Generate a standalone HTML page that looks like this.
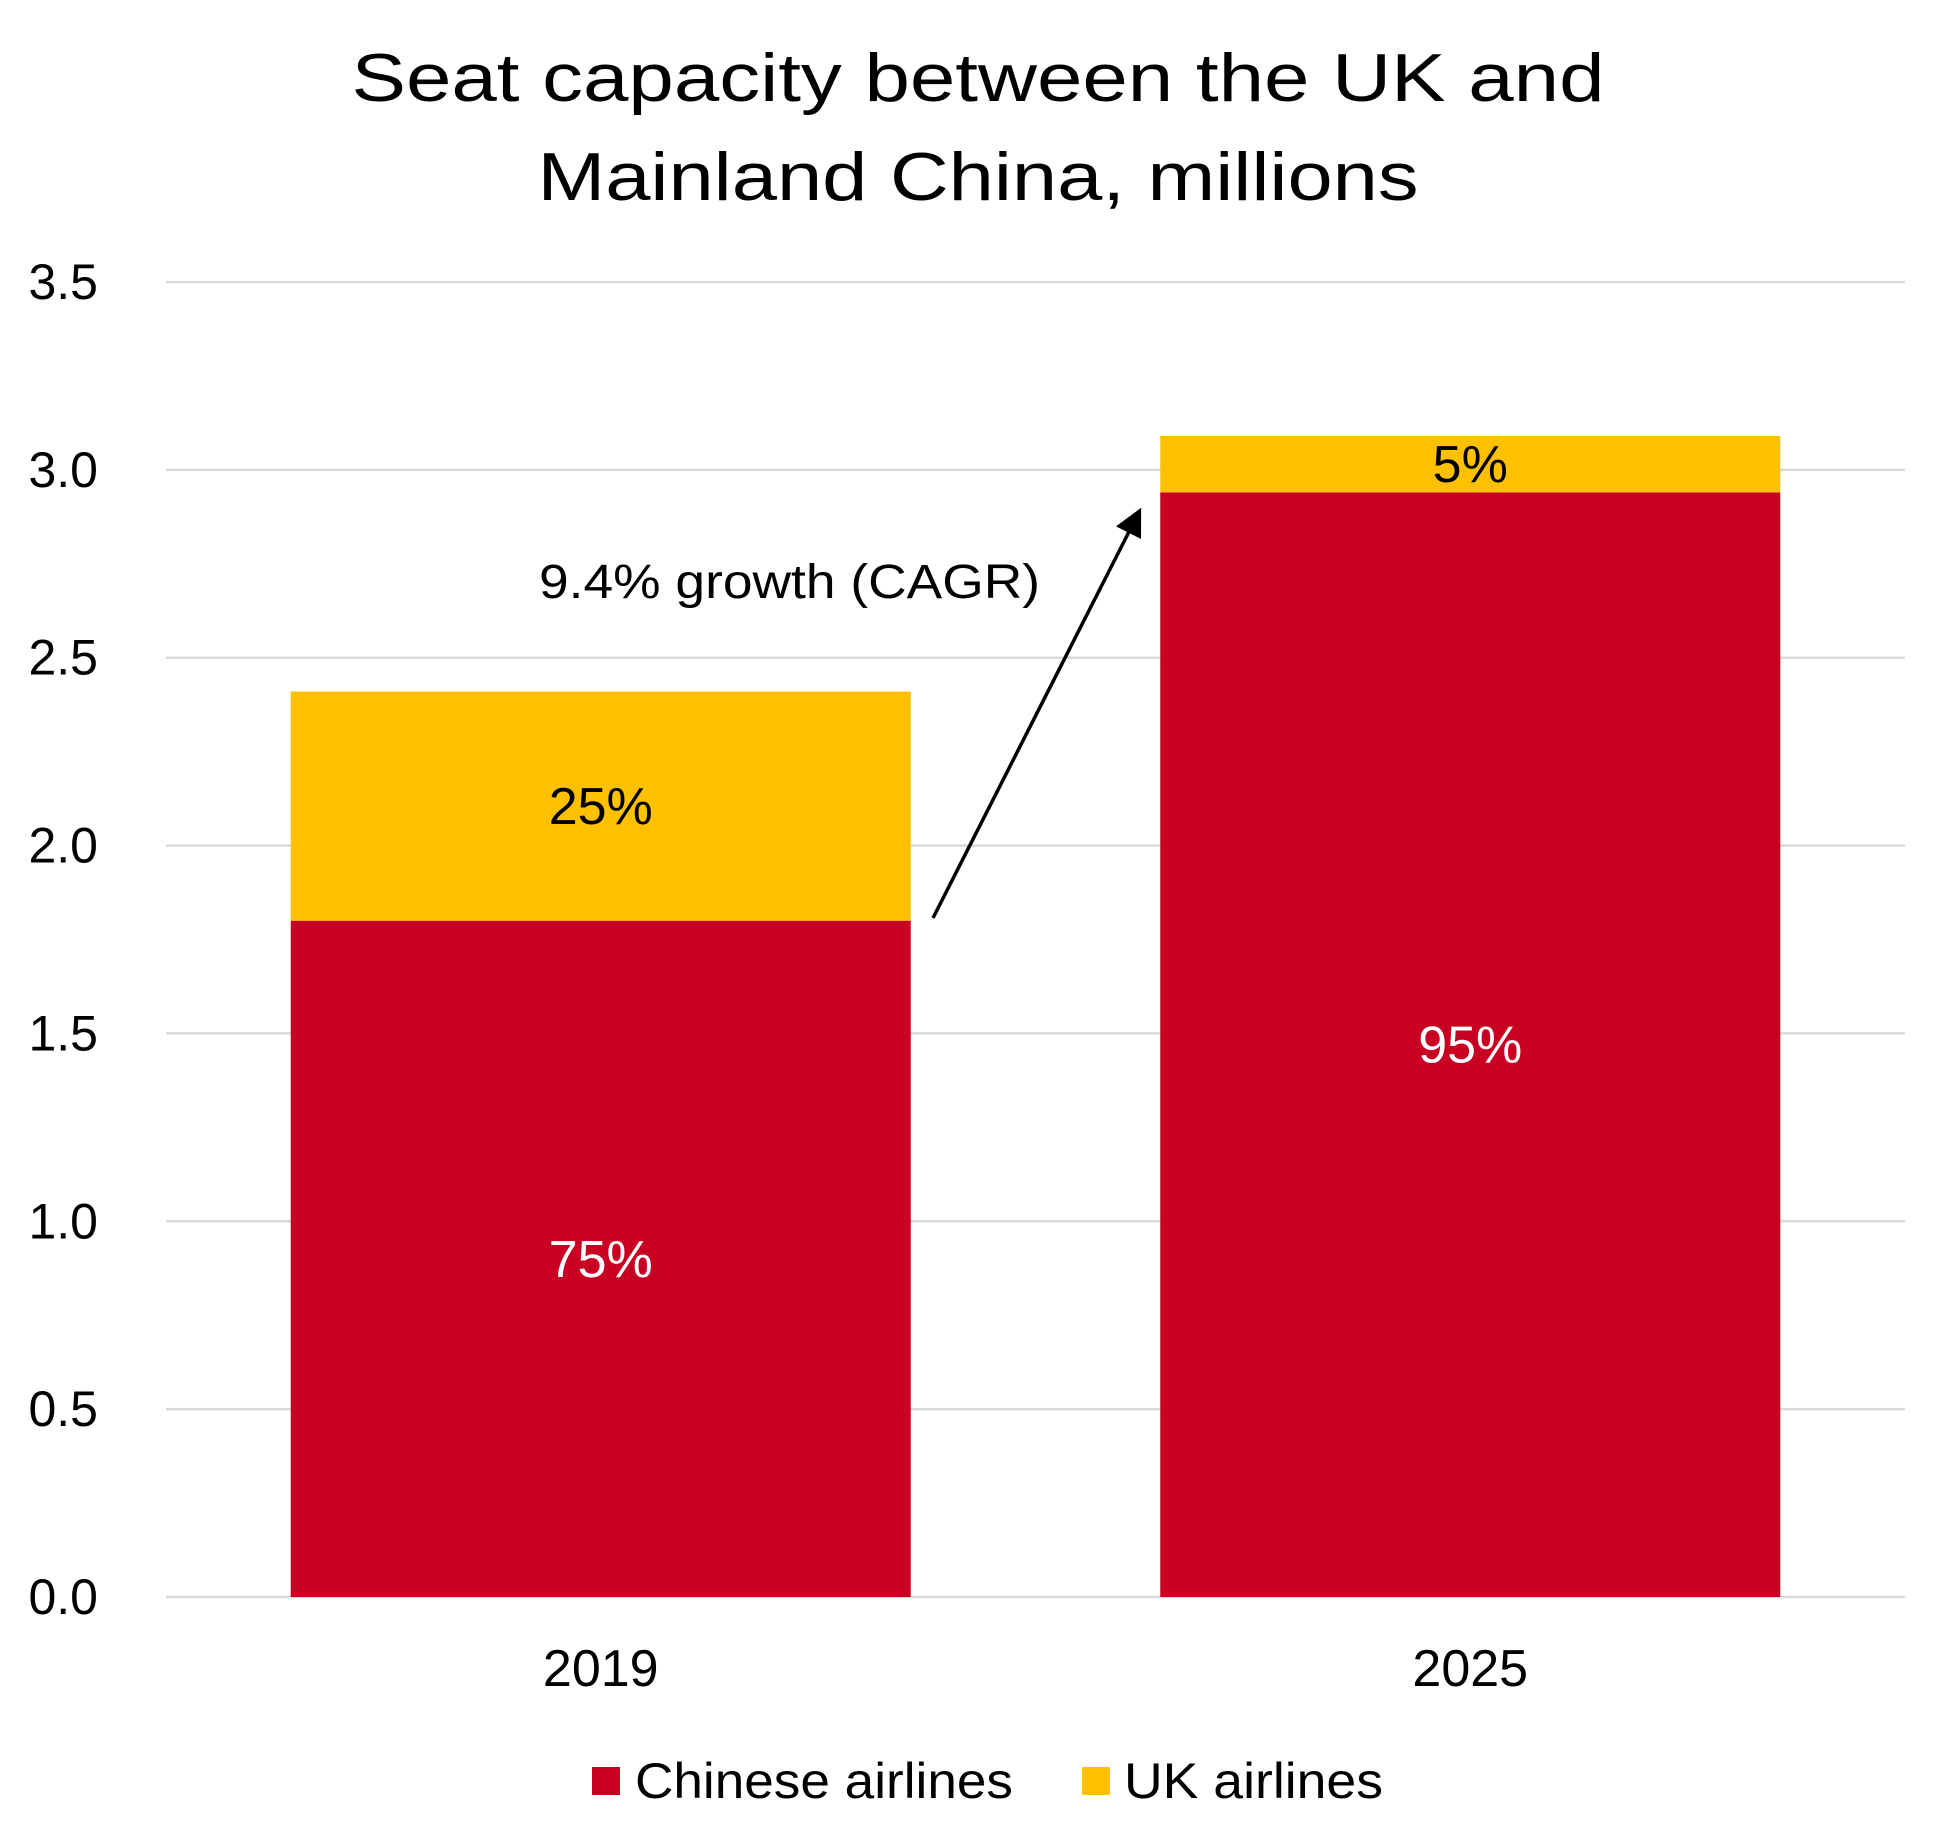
<!DOCTYPE html>
<html><head><meta charset="utf-8"><style>
html,body{margin:0;padding:0;background:#fff;}
svg{display:block;font-family:"Liberation Sans",sans-serif;}
</style></head><body>
<svg id="chart" width="1951" height="1842" viewBox="0 0 1951 1842" xmlns="http://www.w3.org/2000/svg">
<g>
<text x="978" y="101" font-size="68" text-anchor="middle" textLength="1253" lengthAdjust="spacingAndGlyphs" fill="#000">Seat capacity between the UK and</text>
<text x="978" y="200" font-size="68" text-anchor="middle" textLength="881" lengthAdjust="spacingAndGlyphs" fill="#000">Mainland China, millions</text>
</g>
<g id="grid"></g><g id="bars"></g><g id="labels"></g>
<text x="539" y="598" font-size="48" textLength="501" lengthAdjust="spacingAndGlyphs" fill="#000">9.4% growth (CAGR)</text>
<defs><marker id="ah" markerWidth="8" markerHeight="8" refX="6" refY="4" orient="auto" markerUnits="strokeWidth"><path d="M0,0 L8,4 L0,8 z" fill="#000"/></marker></defs>
<line x1="933" y1="918" x2="1138" y2="514" stroke="#000" stroke-width="3.5" marker-end="url(#ah)"/>
<g>
<rect x="592" y="1767" width="28" height="28" fill="#C80022"/>
<text x="635" y="1798" font-size="50" textLength="378" lengthAdjust="spacingAndGlyphs">Chinese airlines</text>
<rect x="1082" y="1767" width="28" height="28" fill="#FFC000"/>
<text x="1124" y="1798" font-size="50" textLength="259" lengthAdjust="spacingAndGlyphs">UK airlines</text>
</g>
</svg>
<script>
const categories = ["2019", "2025"];
const chineseValues = [1.80, 2.94];
const ukValues = [0.61, 0.15];
const chineseLabels = ["75%", "95%"];
const ukLabels = ["25%", "5%"];
const yTicks = [0, 0.5, 1.0, 1.5, 2.0, 2.5, 3.0, 3.5];
const yTickLabels = ["0.0", "0.5", "1.0", "1.5", "2.0", "2.5", "3.0", "3.5"];

const NS = "http://www.w3.org/2000/svg";
const plotL = 166, plotR = 1905, y0 = 1597, yTop = 282, vMax = 3.5;
const y = v => y0 - (v / vMax) * (y0 - yTop);
const band = (plotR - plotL) / categories.length;
const barW = 620;
const xC = i => plotL + band * (i + 0.5);
function mk(tag, attrs, parent, txt) {
  const e = document.createElementNS(NS, tag);
  for (const k in attrs) e.setAttribute(k, attrs[k]);
  if (txt !== undefined) e.textContent = txt;
  parent.appendChild(e); return e;
}
const grid = document.getElementById("grid"), bars = document.getElementById("bars"), labels = document.getElementById("labels");
yTicks.forEach((t, i) => {
  const l = mk("line", {x1: plotL, x2: plotR, y1: y(t), y2: y(t), stroke: "#d9d9d9", "stroke-width": 2.5}, grid);
  
  
  const tx = mk("text", {x: 98, y: y(t) + 17, "font-size": 50, "text-anchor": "end", fill: "#000"}, grid, yTickLabels[i]);
  
  
});
categories.forEach((c, i) => {
  const x = xC(i) - barW / 2;
  const r = mk("rect", {x: x, y: y(chineseValues[i]), width: barW, height: y0 - y(chineseValues[i]), fill: "#C80022"}, bars);
  
  
  const top = chineseValues[i] + ukValues[i];
  const u = mk("rect", {x: x, y: y(top), width: barW, height: y(chineseValues[i]) - y(top), fill: "#FFC000"}, bars);
  
  
  const lc = mk("text", {x: xC(i), y: (y(chineseValues[i]) + y0) / 2 + 18, "font-size": 52, "text-anchor": "middle", fill: "#fff"}, labels, chineseLabels[i]);
  
  
  const lu = mk("text", {x: xC(i), y: (y(chineseValues[i]) + y(top)) / 2 + 18, "font-size": 52, "text-anchor": "middle", fill: "#000"}, labels, ukLabels[i]);
  
  
  const xl = mk("text", {x: xC(i), y: 1686, "font-size": 52, "text-anchor": "middle", fill: "#000"}, labels, c);
  
  
});
</script>
</body></html>
